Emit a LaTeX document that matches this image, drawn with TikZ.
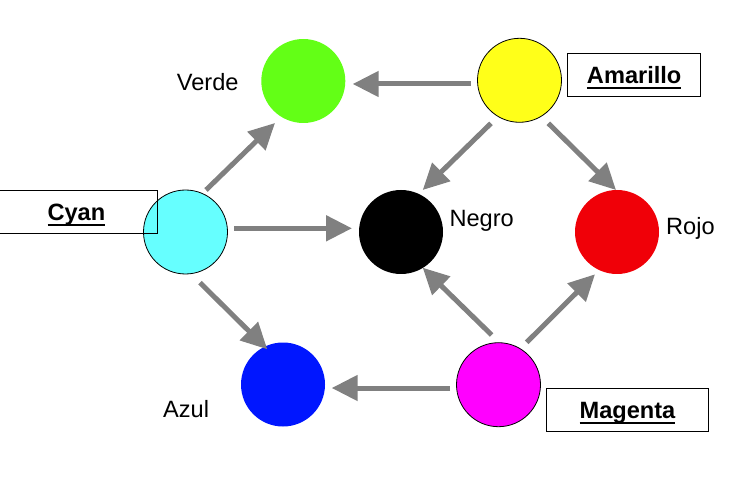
\documentclass[tikz,border=0pt]{standalone}
\usepackage{fontspec}
\setmainfont{Liberation Sans}
\usetikzlibrary{arrows.meta,calc}
\definecolor{cgreen}{RGB}{99,255,22}
\definecolor{ccyan}{RGB}{102,255,255}
\definecolor{cyellow}{RGB}{255,255,25}
\definecolor{cblack}{RGB}{0,0,0}
\definecolor{cred}{RGB}{240,0,8}
\definecolor{cblue}{RGB}{0,22,255}
\definecolor{cmagenta}{RGB}{255,0,255}
\definecolor{arrgray}{RGB}{128,128,128}
\newcommand\ulbar[1]{\setbox0\hbox{#1}\rlap{\rule[-5.6pt]{\wd0}{2pt}}\box0}
\begin{document}
\begin{tikzpicture}[x=1pt,y=-1pt,
  dot/.style={circle,minimum size=84pt,inner sep=0pt,outer sep=0pt},
  ring/.style={dot,draw=black,line width=0.8pt},
  arr/.style={draw=arrgray,line width=5pt,-{Triangle[length=26pt,width=25pt]}},
  lbl/.style={font=\fontsize{23.6}{27}\selectfont,anchor=base west,inner sep=0pt},
  tag/.style={draw=black,line width=0.9pt,font=\fontsize{23.6}{27}\selectfont\bfseries,
    minimum height=42.5pt,inner sep=0pt,text height=16.9pt,text depth=0pt}]
\useasboundingbox (0,0) rectangle (742,489);

% circles
\node[dot,fill=cgreen] (green) at (303.3,81) {};
\node[ring,fill=cyellow] (yellow) at (519.5,80.3) {};
\node[ring,fill=ccyan] (cyan) at (185.5,232) {};
\node[dot,fill=cblack] (black) at (401,232) {};
\node[dot,fill=cred] (red) at (617,232) {};
\node[dot,fill=cblue] (blue) at (283,384.5) {};
\node[ring,fill=cmagenta] (magenta) at (498.5,384.7) {};

% arrows
\draw[arr] ($(cyan)+(20.5,-42)$) -- ($(green)+(-28.3,42)$);
\draw[arr] ($(cyan)+(48.5,-3.7)$) -- ($(black)+(-49,-3.7)$);
\draw[arr] ($(cyan)+(14.5,50.7)$) -- ($(blue)+(-15.7,-35.2)$);
\draw[arr] ($(yellow)+(-48.8,3.7)$) -- ($(green)+(49.4,3)$);
\draw[arr] ($(yellow)+(-28.5,43)$) -- ($(black)+(21.7,-42)$);
\draw[arr] ($(yellow)+(28.8,43)$) -- ($(red)+(-1,-42)$);
\draw[arr] ($(magenta)+(-6.8,-49.7)$) -- ($(black)+(21.7,35.7)$);
\draw[arr] ($(magenta)+(28.2,-42.4)$) -- ($(red)+(-22,42.3)$);
\draw[arr] ($(magenta)+(-48.5,3.3)$) -- ($(blue)+(48.7,3.5)$);

% plain labels
\node[lbl] (verde) at (176.7,90.7) {Verde};
\node[lbl] (negro) at (449.3,226.7) {Negro};
\node[lbl] (rojo) at (666,235) {Rojo};
\node[lbl] (azul) at (163,417) {Azul};

% boxed labels
\node[tag,minimum width=133pt] (tamarillo) at (634.2,75) {\ulbar{Amarillo}};
\node[tag,minimum width=161.6pt] (tmagenta) at (627.5,409.7) {\ulbar{Magenta}};
\node[tag,minimum width=161.6pt] (tcyan) at (76.4,211.9) {\ulbar{Cyan}};
\end{tikzpicture}
\end{document}
